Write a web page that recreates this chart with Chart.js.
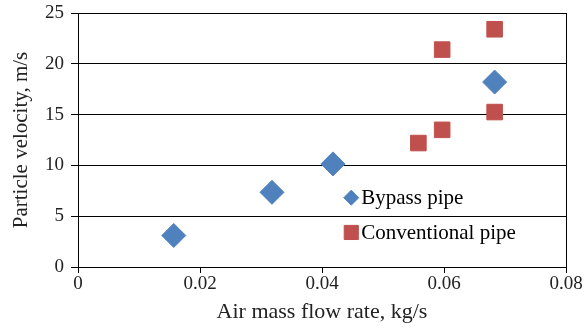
<!DOCTYPE html>
<html>
<head>
<meta charset="utf-8">
<script src="https://cdn.jsdelivr.net/npm/chart.js@4/dist/chart.umd.min.js"></script>
<style>
  html, body { margin: 0; padding: 0; background: #fff; }
  #wrap { width: 587px; height: 329px; position: relative; }
</style>
</head>
<body>
<div id="wrap"><canvas id="chart"></canvas></div>
<script>
// ── Data ────────────────────────────────────────
const seriesNames = ['Bypass pipe', 'Conventional pipe'];
const bypassX = [0.0157, 0.0318, 0.0418, 0.0683];
const bypassY = [3.1, 7.35, 10.15, 18.2];
const convX = [0.0558, 0.0597, 0.0597, 0.0683, 0.0683];
const convY = [12.2, 13.5, 21.4, 15.25, 23.4];
const xTicks = [0, 0.02, 0.04, 0.06, 0.08];
const yTicks = [0, 5, 10, 15, 20, 25];

const BLUE = '#4F81BD';
const RED = '#C0504D';
const FONT = '"Liberation Serif", "Times New Roman", serif';

const toPoints = (xs, ys) => xs.map((x, i) => ({ x, y: ys[i] }));

// legend drawn inside the plot area
const innerLegend = {
    id: 'innerLegend',
    afterDatasetsDraw(chart) {
        const { ctx, chartArea } = chart;
        const w = chartArea.right - chartArea.left;
        const h = chartArea.bottom - chartArea.top;
        const rows = [
            { style: 'rectRot', radius: 7.5, color: BLUE, fy: 0.727 },
            { style: 'rect', radius: 10, color: RED, fy: 0.864 }
        ];
        ctx.save();
        rows.forEach((r, i) => {
            const cx = chartArea.left + w * 0.56;
            const cy = chartArea.top + h * r.fy;
            ctx.fillStyle = r.color;
            ctx.strokeStyle = r.color;
            ctx.lineWidth = 1;
            Chart.helpers.drawPoint(ctx, { pointStyle: r.style, radius: r.radius, borderWidth: 1 }, cx, cy);
            ctx.fillStyle = '#000';
            ctx.font = '21px ' + FONT;
            ctx.textBaseline = 'middle';
            ctx.textAlign = 'left';
            ctx.fillText(seriesNames[i], cx + 10, cy + 1);
        });
        ctx.restore();
    }
};

new Chart(document.getElementById('chart'), {
    type: 'scatter',
    data: {
        datasets: [
            {
                label: seriesNames[0],
                data: toPoints(bypassX, bypassY),
                pointStyle: 'rectRot',
                pointRadius: 12,
                pointHoverRadius: 12,
                backgroundColor: BLUE,
                borderColor: BLUE,
                borderWidth: 1
            },
            {
                label: seriesNames[1],
                data: toPoints(convX, convY),
                pointStyle: 'rect',
                pointRadius: 11,
                pointHoverRadius: 11,
                backgroundColor: RED,
                borderColor: RED,
                borderWidth: 1
            }
        ]
    },
    options: {
        responsive: true,
        maintainAspectRatio: false,
        animation: false,
        layout: { padding: { top: 12, right: 21, left: 0, bottom: 0 } },
        plugins: {
            legend: { display: false },
            tooltip: { enabled: false }
        },
        scales: {
            x: {
                type: 'linear',
                min: 0,
                max: 0.08,
                afterBuildTicks: s => { s.ticks = xTicks.map(v => ({ value: v })); },
                afterFit: s => { s.height = 62; },
                border: { color: '#000', width: 1 },
                grid: {
                    color: c => (c.tick && c.tick.value === 0.08 ? '#000' : 'rgba(0,0,0,0)'),
                    tickColor: '#000',
                    tickLength: 6,
                    lineWidth: 1
                },
                ticks: {
                    color: '#222',
                    font: { family: FONT, size: 19 },
                    padding: 0,
                    maxRotation: 0,
                    callback: v => (v === 0 ? '0' : String(+v.toFixed(2)))
                },
                title: {
                    display: true,
                    text: 'Air mass flow rate, kg/s',
                    color: '#222',
                    font: { family: FONT, size: 22 },
                    padding: { top: 0, bottom: 4 }
                }
            },
            y: {
                min: 0,
                max: 25,
                afterBuildTicks: s => { s.ticks = yTicks.map(v => ({ value: v })); },
                afterFit: s => { s.width = 78; s.paddingTop = 0; s.paddingBottom = 0; },
                border: { color: '#000', width: 1 },
                grid: {
                    color: '#000',
                    tickColor: '#000',
                    tickLength: 7,
                    lineWidth: 1
                },
                ticks: {
                    color: '#222',
                    font: { family: FONT, size: 19 },
                    padding: 7
                },
                title: {
                    display: true,
                    text: 'Particle velocity, m/s',
                    color: '#222',
                    font: { family: FONT, size: 21 },
                    padding: { top: 9, bottom: 0 }
                }
            }
        }
    },
    plugins: [innerLegend]
});
</script>
</body>
</html>
